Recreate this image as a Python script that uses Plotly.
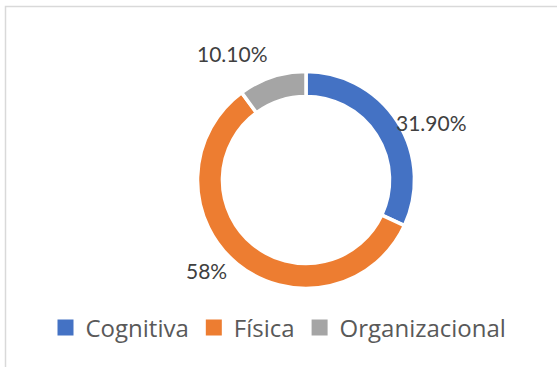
import plotly.graph_objects as go

categories = ["Cognitiva", "Física", "Organizacional"]
values = [31.9, 58.0, 10.1]
colors = ["#4472C4", "#ED7D31", "#A5A5A5"]

# where each data label sits (paper coordinates, centre of the text)
label_pos = [(432 / 557, 1 - 122 / 367), (206 / 557, 1 - 270 / 367), (232 / 557, 1 - 53 / 367)]

W, H = 557, 367
cx, cy, r = 306, 180, 108.5

fig = go.Figure(go.Pie(
    labels=categories,
    values=values,
    hole=0.77,
    sort=False,
    direction="clockwise",
    rotation=0,
    marker=dict(colors=colors, line=dict(color="white", width=3.5)),
    textinfo="none",
    hoverinfo="label+percent",
    showlegend=False,
    domain=dict(x=[(cx - r) / W, (cx + r) / W], y=[1 - (cy + r) / H, 1 - (cy - r) / H]),
))

# legend entries with larger square swatches
for name, col in zip(categories, colors):
    fig.add_trace(go.Scatter(x=[None], y=[None], mode="markers", name=name,
                             marker=dict(symbol="square", size=16, color=col),
                             showlegend=True, hoverinfo="skip"))


def fmt(v):
    return f"{v:g}%" if float(v).is_integer() else f"{v:.2f}%"


for v, (x, y) in zip(values, label_pos):
    fig.add_annotation(x=x, y=y, xref="paper", yref="paper", text=fmt(v),
                       showarrow=False, font=dict(family="Lato", size=21, color="#404040"),
                       xanchor="center", yanchor="middle")

# chart frame
fig.add_shape(type="rect", xref="paper", yref="paper",
              x0=5.5 / W, y0=-0.05, x1=1.05, y1=1 - 6.5 / H,
              line=dict(color="#D9D9D9", width=1.5), layer="below")

fig.update_layout(
    width=W, height=H,
    margin=dict(l=0, r=0, t=0, b=0),
    paper_bgcolor="white",
    plot_bgcolor="rgba(0,0,0,0)",
    xaxis=dict(visible=False),
    yaxis=dict(visible=False),
    font=dict(family="'Open Sans', sans-serif", color="#595959"),
    showlegend=True,
    legend=dict(orientation="h", x=0.5, xanchor="center", y=1 - 328 / H, yanchor="middle",
                font=dict(family="'Open Sans'", size=24, color="#595959"), itemclick=False,
                itemsizing="trace", tracegroupgap=0, traceorder="normal"),
)

fig.write_html("out.html")
